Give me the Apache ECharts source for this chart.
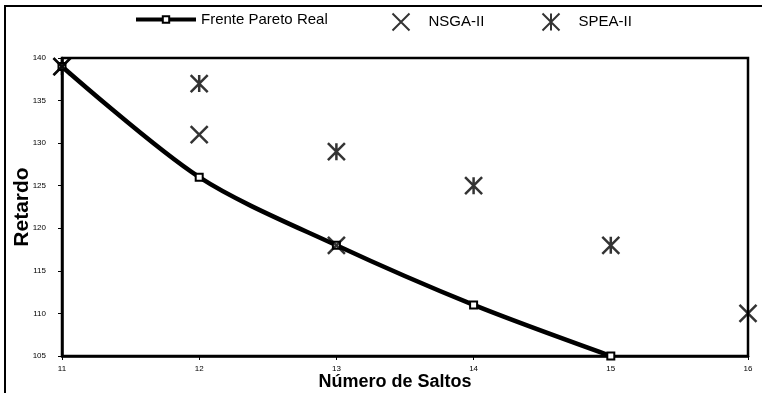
<!DOCTYPE html>
<html>
<head>
<meta charset="utf-8">
<style>
  html, body { margin: 0; padding: 0; background: #fff; }
  #chart { width: 762px; height: 393px; }
</style>
<script src="https://cdn.jsdelivr.net/npm/echarts@6/dist/echarts.min.js"></script>
</head>
<body>
<div id="chart"></div>
<script>
// Número de saltos (x) and retardo (y) for each front
const paretoSaltos = [11, 12, 13, 14, 15];
const paretoRetardo = [139, 126, 118, 111, 105];

const nsgaSaltos = [11, 12, 13, 16];
const nsgaRetardo = [139, 131, 118, 110];

const speaSaltos = [11, 12, 13, 14, 15];
const speaRetardo = [139, 137, 129, 125, 118];

const xTicks = [11, 12, 13, 14, 15, 16];
const yTicks = [105, 110, 115, 120, 125, 130, 135, 140];

const FONT = '"Liberation Sans", Arial, sans-serif';
const crossPath = 'path://M0 0L10 10M10 0L0 10';
const asteriskPath = 'path://M0 0L10 10M10 0L0 10M5 0L5 10';

const zip = (xs, ys) => xs.map((x, i) => [x, ys[i]]);

const chart = echarts.init(document.getElementById('chart'), null, { renderer: 'canvas' });

const legendText = { fontFamily: FONT, fontSize: 15, color: '#000' };
const markerLegendText = Object.assign({}, legendText, { padding: [0, 0, 0, 14] });

chart.setOption({
  backgroundColor: '#fff',
  animation: false,
  graphic: [{
    type: 'rect',
    shape: { x: 5, y: 6, width: 900, height: 600 },
    style: { fill: 'none', stroke: '#000', lineWidth: 2 },
    silent: true
  }],
  legend: [
    {
      data: ['Frente Pareto Real'], left: 134, top: 12, padding: 0,
      itemWidth: 60, itemHeight: 8, itemGap: 0, textStyle: legendText,
      lineStyle: { width: 4 }
    },
    {
      data: ['NSGA-II'], left: 390, top: 11, padding: 0,
      itemWidth: 17, itemHeight: 17, itemGap: 0, textStyle: markerLegendText
    },
    {
      data: ['SPEA-II'], left: 540, top: 11, padding: 0,
      itemWidth: 17, itemHeight: 17, itemGap: 0, textStyle: markerLegendText
    }
  ],
  grid: {
    left: 62, right: 14, top: 58, bottom: 37,
    outerBoundsMode: 'none',
    containLabel: false,
    show: true, borderColor: '#000', borderWidth: 2.5, backgroundColor: '#fff'
  },
  xAxis: {
    type: 'value',
    min: xTicks[0], max: xTicks[xTicks.length - 1], interval: 1,
    name: 'Número de Saltos',
    nameLocation: 'middle',
    nameGap: 17,
    nameMoveOverlap: false,
    nameTextStyle: { fontFamily: FONT, fontSize: 18, fontWeight: 'bold', color: '#000', padding: [0, 20, 0, 0] },
    axisLine: { show: true, lineStyle: { color: '#000', width: 2.5 } },
    axisTick: { show: true, length: 4, lineStyle: { color: '#000', width: 1 } },
    axisLabel: { fontFamily: FONT, fontSize: 8, color: '#000', margin: 9 },
    splitLine: { show: false }
  },
  yAxis: {
    type: 'value',
    min: yTicks[0], max: yTicks[yTicks.length - 1], interval: 5,
    name: 'Retardo',
    nameLocation: 'middle',
    nameGap: 29,
    nameMoveOverlap: false,
    nameTextStyle: { fontFamily: FONT, fontSize: 21, fontWeight: 'bold', color: '#000' },
    axisLine: { show: true, lineStyle: { color: '#000', width: 2.5 } },
    axisTick: { show: true, length: 4, lineStyle: { color: '#000', width: 1 } },
    axisLabel: { fontFamily: FONT, fontSize: 8, color: '#000', margin: 16 },
    splitLine: { show: false }
  },
  series: [
    {
      name: 'Frente Pareto Real',
      type: 'line',
      data: zip(paretoSaltos, paretoRetardo),
      smooth: 0.3,
      symbol: 'rect',
      symbolSize: 7,
      showAllSymbol: true,
      lineStyle: { color: '#000', width: 4.5 },
      itemStyle: { color: '#fff', borderColor: '#000', borderWidth: 2 },
      clip: false,
      z: 2
    },
    {
      name: 'NSGA-II',
      type: 'scatter',
      data: zip(nsgaSaltos, nsgaRetardo),
      symbol: crossPath,
      symbolSize: 17,
      itemStyle: { color: 'none', borderColor: '#000', borderWidth: 2.5 },
      clip: false,
      z: 3
    },
    {
      name: 'SPEA-II',
      type: 'scatter',
      data: zip(speaSaltos, speaRetardo),
      symbol: asteriskPath,
      symbolSize: 17,
      itemStyle: { color: 'none', borderColor: '#000', borderWidth: 2.5 },
      clip: false,
      z: 3
    }
  ]
});
</script>
</body>
</html>
